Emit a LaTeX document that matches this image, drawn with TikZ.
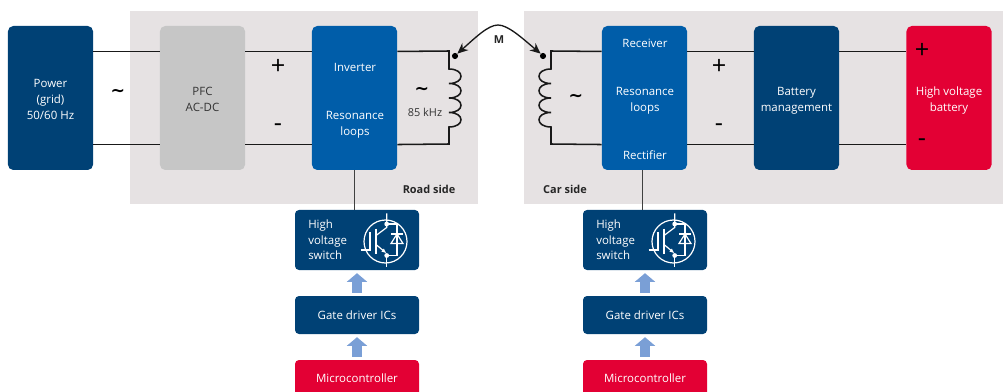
\documentclass[tikz,border=0pt]{standalone}
\usepackage{fontspec}
\setmainfont{Open Sans}
\newfontfamily\symfont{DejaVu Sans}
\usepackage{xcolor}
\usetikzlibrary{positioning, calc, arrows.meta}
\definecolor{navy}{HTML}{004175}
\definecolor{midblue}{HTML}{005DA9}
\definecolor{signalred}{HTML}{E30034}
\definecolor{pfcgrey}{HTML}{C6C6C6}
\definecolor{sidegrey}{HTML}{E6E2E3}
\definecolor{flowblue}{HTML}{7A9FD6}

\begin{document}
\begin{tikzpicture}[x=.75pt, y=-.75pt,
    block/.style={rounded corners=4pt, minimum width=63.8pt, minimum height=108pt, inner sep=0pt},
    label/.style={align=center, font=\fontsize{8.6}{12}\selectfont, text=white, inner sep=0pt},
    small/.style={rounded corners=3pt, fill=navy, minimum width=93pt, align=center, font=\fontsize{8.6}{11.4}\selectfont, text=white, inner sep=0pt},
    wire/.style={line width=1.15pt, black!90},
    flow/.style={line width=8pt, flowblue, -{Triangle[length=6.5pt, width=15pt]}, shorten >=2.2pt, shorten <=2.2pt},
    sign/.style={font=\fontsize{19}{19}\selectfont, text=black, inner sep=0pt},
    acsign/.style={font=\symfont\bfseries\fontsize{13}{13}\selectfont, text=black, inner sep=0pt},
    note/.style={font=\fontsize{8.2}{10}\selectfont\bfseries, text=black!85, inner sep=0pt},
    dot/.style={circle, fill=black, inner sep=0pt, minimum size=4.6pt}]
        \clip (0, 0) rectangle (1003, 392);
        \fill[sidegrey] (130, 11) rectangle (478, 204);
        \fill[sidegrey] (524, 11) rectangle (1003, 204);
        \node[block, fill=navy] (power) at (50.5, 98) {};
        \node[block, fill=pfcgrey] (pfc) at (202.5, 98) {};
        \node[block, fill=midblue] (inverter) at (354.5, 98) {};
        \node[block, fill=midblue] (receiver) at (644.5, 98) {};
        \node[block, fill=navy] (battery) at (796.5, 98) {};
        \node[block, fill=signalred] (hvbattery) at (949, 98) {};
        \node[label] (powerlabel) at (50.5, 99) {Power\\(grid)\\50/60 Hz};
        \node[label, text=black!80] (pfclabel) at (202.5, 99.5) {PFC\\AC-DC};
        \node[label] (batterylabel) at (796.5, 100.5) {Battery\\management};
        \node[label] (hvlabel) at (949, 100.5) {High voltage\\battery};
        \node[label] (invlabel) at (355, 67) {Inverter};
        \node[label] (invloops) at (355, 125) {Resonance\\loops};
        \node[label] (reclabel) at (645, 43) {Receiver};
        \node[label] (recloops) at (645, 100.5) {Resonance\\loops};
        \node[label] (rectlabel) at (645, 155) {Rectifier};
        \foreach \cx/\n in {357/road, 645/car} {
          \node[small, minimum height=45pt] (switch\n) at (\cx, 240) {};
          \node[small, minimum height=28.5pt] (gate\n) at (\cx, 315) {Gate driver ICs};
          \node[small, fill=signalred, minimum height=27pt] (micro\n) at (\cx, 378) {Microcontroller};
          \node[anchor=north west, text=white, align=left, inner sep=0pt, font=\fontsize{8.6}{11.4}\selectfont] (switchtext\n) at (\cx-49, 220) {High\\voltage\\switch};
          \draw[flow] (micro\n) -- (gate\n);
          \draw[flow] (gate\n) -- (switch\n);
          % IGBT and diode
          \begin{scope}[shift={(\cx+28.5, 241.5)}, white, line width=.9pt]
            \draw (0, 0) circle [radius=21.5];
            \draw (-25, 8.5) -- (-15.5, 8.5) -- (-15.5, -9.5);
            \draw (-9.5, -13) -- (-9.5, 12);
            \draw (-9.5, -6) -- (1.2, -14) -- (1.2, -28);
            \draw[-{Latex[length=4pt]}] (-9.5, 3) -- (1.2, 12);
            \draw (1.2, 12) -- (1.2, 25);
            \draw (1.2, -17.5) -- (11.5, -17.5) -- (11.5, 14) -- (1.2, 14);
            \fill (1.2, -17.5) circle [radius=2.4] (1.2, 14) circle [radius=2.4];
            \draw (5.5, -7.5) -- (17.5, -7.5);
            \draw (5.5, 2) -- (17.5, 2) -- (11.5, -7.5) -- cycle;
          \end{scope}
        }
        \draw[line width=1pt, black!75] (inverter.south) -- (inverter.south |- switchroad.north);
        \draw[line width=1pt, black!75] ([xshift=-1.5pt]receiver.south) -- ([xshift=-1.5pt]receiver.south |- switchcar.north);
        \foreach \dy in {34.9pt, -34.9pt} {
          \draw[wire] ([yshift=\dy]power.east) -- ([yshift=\dy]pfc.west);
          \draw[wire] ([yshift=\dy]pfc.east) -- ([yshift=\dy]inverter.west);
          \draw[wire] ([yshift=\dy]receiver.east) -- ([yshift=\dy]battery.west);
          \draw[wire] ([yshift=\dy]battery.east) -- ([yshift=\dy]hvbattery.west);
        }
        % coils
        \draw[wire] ([yshift=34.9pt]inverter.east) -- (449, 51) -- (449, 69)
          \foreach \k in {0, 1, 2, 3} { .. controls (465, 69+14.5*\k) and (465, 83.5+14.5*\k) .. (449, 83.5+14.5*\k) }
          -- (449, 144) -- ([yshift=-34.9pt]inverter.east);
        \draw[wire] ([yshift=34.9pt]receiver.west) -- (551, 51) -- (551, 69)
          \foreach \k in {0, 1, 2, 3} { .. controls (535, 69+14.5*\k) and (535, 83.5+14.5*\k) .. (551, 83.5+14.5*\k) }
          -- (551, 144) -- ([yshift=-34.9pt]receiver.west);
        \node[dot] (dotroad) at (455, 56) {};
        \node[dot] (dotcar) at (543, 56) {};
        \coordinate (top) at (498, 25);
        \draw[wire, line width=1pt, {Stealth[length=8pt, width=7pt]}-{Stealth[length=8pt, width=7pt]}] (dotroad.north east) .. controls (475, 38) and (488, 25) .. (top) .. controls (508, 25) and (522, 38) .. (dotcar.north west);
        \node[note] (m) at (499, 40) {M};
        \node[note] (roadside) at (429, 189) {Road side};
        \node[note] (carside) at (565, 189) {Car side};
        \node[acsign] (acpower) at (118, 93) {∼};
        \node[sign] (plusa) at (278, 67) {+};
        \node[sign] (minusa) at (278, 128) {-};
        \node[acsign] (acroad) at (422, 91) {∼};
        \node[text=black!80, font=\fontsize{8.2}{10}\selectfont, inner sep=0pt] (freq) at (425, 112) {85 kHz};
        \node[acsign] (accar) at (576, 98) {∼};
        \node[sign] (plusb) at (719, 67) {+};
        \node[sign] (minusb) at (719, 128) {-};
        \node[sign] (plusc) at (922, 51) {+};
        \node[sign] (minusc) at (922, 143) {-};
\end{tikzpicture}
\end{document}
